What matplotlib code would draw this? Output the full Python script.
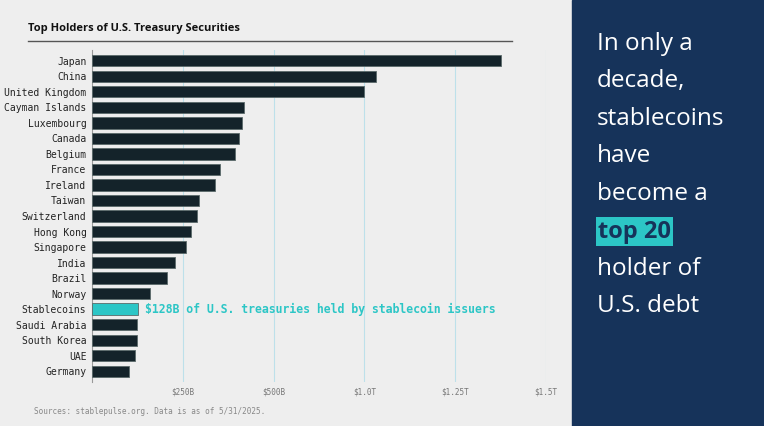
import numpy as np
import matplotlib.pyplot as plt
from matplotlib.patches import Rectangle

# Daten
countries = ['Japan', 'China', 'United Kingdom', 'Cayman Islands', 'Luxembourg', 'Canada',
             'Belgium', 'France', 'Ireland', 'Taiwan', 'Switzerland', 'Hong Kong', 'Singapore',
             'India', 'Brazil', 'Norway', 'Stablecoins', 'Saudi Arabia', 'South Korea', 'UAE', 'Germany']
holdings = [1126, 783, 750, 418, 412, 404, 393, 352, 338, 294, 288, 272, 258,
            228, 206, 159, 128, 124, 124, 118, 102]  # $B
tick_vals = [250, 500, 750, 1000, 1250]
tick_labels = ['$250B', '$500B', '$1.0T', '$1.25T', '$1.5T']

bg = '#eeeeee'
dark = '#14232a'
teal = '#2cc6c6'
navy = '#16335a'

fig = plt.figure(figsize=(7.64, 4.26), dpi=100, facecolor=bg)
ax = fig.add_axes([92/764, 1-382/426, 454/764, 332/426])
ax.set_facecolor(bg)
y = np.arange(len(countries))
colors = [teal if c == 'Stablecoins' else dark for c in countries]
ax.barh(y, holdings, height=0.72, color=colors, edgecolor='#5a6a6a', linewidth=0.6, zorder=3)
ax.set_ylim(len(countries) - 0.3, -0.7)
ax.set_xlim(0, 1250)
ax.set_yticks(y, countries, family='DejaVu Sans Mono', fontsize=7, color='#222222')
ax.set_xticks(tick_vals, tick_labels, family='DejaVu Sans Mono', fontsize=5.5, color='#777777')
ax.tick_params(length=0, pad=4)
ax.grid(axis='x', color='#bde0ea', linewidth=0.8, zorder=0)
for s in ['top', 'right', 'bottom']:
    ax.spines[s].set_visible(False)
ax.spines['left'].set_color('#999999')
i = countries.index('Stablecoins')
ax.text(holdings[i] + 18, i, '$128B of U.S. treasuries held by stablecoin issuers',
        va='center', family='DejaVu Sans Mono', fontsize=8.3, fontweight='bold', color=teal)

fig.text(28/764, 1-28/426, 'Top Holders of U.S. Treasury Securities', fontsize=8,
         fontweight='bold', color='#111111', va='center', family='Open Sans')
fig.add_artist(plt.Line2D([28/764, 512/764], [1-41/426, 1-41/426], color='#555555', lw=1))
fig.text(34/764, 1-412/426, 'Sources: stablepulse.org. Data is as of 5/31/2025.',
         fontsize=5.5, color='#888888', family='DejaVu Sans Mono', va='center')

# rechte Tafel
fig.add_artist(Rectangle((572/764, 0), 192/764, 1, transform=fig.transFigure, color=navy))
lines = ['In only a', 'decade,', 'stablecoins', 'have', 'become a', None, 'holder of', 'U.S. debt']
for k, t in enumerate(lines):
    yy = 1 - (44 + k*37.5)/426
    if t is None:
        fig.text(598/764, yy, 'top 20', fontsize=17, fontweight='bold', color=navy,
                 va='center', family='Open Sans',
                 bbox=dict(boxstyle='square,pad=0.1', fc=teal, ec='none'))
    else:
        fig.text(597/764, yy, t, fontsize=17.5, color='white', va='center', family='Open Sans')

fig.savefig('out.png', dpi=100, facecolor=bg)
